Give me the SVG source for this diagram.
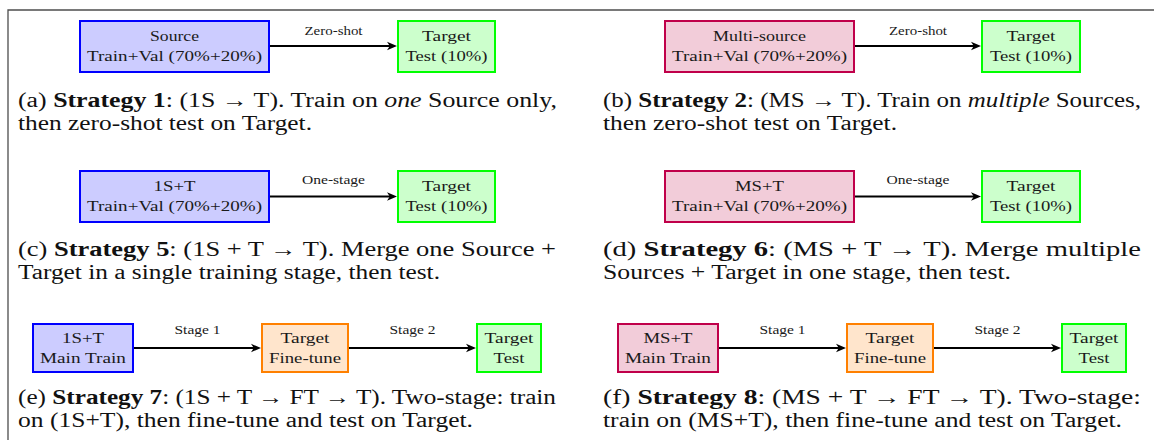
<svg xmlns="http://www.w3.org/2000/svg" width="1154" height="440" viewBox="0 0 1154 440">
<defs>
<marker id="ah" markerUnits="userSpaceOnUse" markerWidth="11" markerHeight="10" refX="5" refY="5" orient="auto">
<path d="M0,0.8 L10,5 L0,9.2 L2.8,5 Z" fill="#000"/>
</marker>
<style>
.bl{fill:#ccccff;stroke:#0000ff;stroke-width:2}
.gr{fill:#ccffcc;stroke:#00ff00;stroke-width:2}
.pu{fill:#f2ccd9;stroke:#c0004a;stroke-width:2}
.or{fill:#ffe5cc;stroke:#ff8000;stroke-width:2}
.bt{font-family:"Liberation Serif",serif;font-size:15px;fill:#1a1a1a}
.lb{font-family:"Liberation Serif",serif;font-size:12px;fill:#1a1a1a}
.cp{font-family:"Liberation Serif",serif;font-size:20px;fill:#111}
.b{font-weight:bold}
.i{font-style:italic}
.ar{stroke:#000;stroke-width:2;fill:none;marker-end:url(#ah)}
.fr{stroke:#4d4d4d;stroke-width:1.3;fill:none}
</style>
</defs>
<path class="fr" d="M8,440 V10 H1154"/>

<g id="a-source"><rect class="bl" x="80" y="21" width="189" height="51"/>
<text class="bt" x="150" y="41" textLength="49" lengthAdjust="spacingAndGlyphs">Source</text>
<text class="bt" x="87" y="60.5" textLength="175" lengthAdjust="spacingAndGlyphs">Train+Val (70%+20%)</text></g>
<g id="a-target"><rect class="gr" x="398" y="21" width="97" height="51"/>
<text class="bt" x="422" y="41" textLength="49" lengthAdjust="spacingAndGlyphs">Target</text>
<text class="bt" x="405.5" y="60.5" textLength="82" lengthAdjust="spacingAndGlyphs">Test (10%)</text></g>

<g id="b-source"><rect class="pu" x="665" y="21" width="189" height="51"/>
<text class="bt" x="713" y="41" textLength="93" lengthAdjust="spacingAndGlyphs">Multi-source</text>
<text class="bt" x="672" y="60.5" textLength="175" lengthAdjust="spacingAndGlyphs">Train+Val (70%+20%)</text></g>
<g id="b-target"><rect class="gr" x="982" y="21" width="98" height="51"/>
<text class="bt" x="1006.5" y="41" textLength="49" lengthAdjust="spacingAndGlyphs">Target</text>
<text class="bt" x="990" y="60.5" textLength="82" lengthAdjust="spacingAndGlyphs">Test (10%)</text></g>

<g id="c-source"><rect class="bl" x="80" y="171" width="189" height="51"/>
<text class="bt" x="153.5" y="191" textLength="42" lengthAdjust="spacingAndGlyphs">1S+T</text>
<text class="bt" x="87" y="210.5" textLength="175" lengthAdjust="spacingAndGlyphs">Train+Val (70%+20%)</text></g>
<g id="c-target"><rect class="gr" x="398" y="171" width="97" height="51"/>
<text class="bt" x="422" y="191" textLength="49" lengthAdjust="spacingAndGlyphs">Target</text>
<text class="bt" x="405.5" y="210.5" textLength="82" lengthAdjust="spacingAndGlyphs">Test (10%)</text></g>

<g id="d-source"><rect class="pu" x="665" y="171" width="189" height="51"/>
<text class="bt" x="735" y="191" textLength="49" lengthAdjust="spacingAndGlyphs">MS+T</text>
<text class="bt" x="672" y="210.5" textLength="175" lengthAdjust="spacingAndGlyphs">Train+Val (70%+20%)</text></g>
<g id="d-target"><rect class="gr" x="982" y="171" width="98" height="51"/>
<text class="bt" x="1006.5" y="191" textLength="49" lengthAdjust="spacingAndGlyphs">Target</text>
<text class="bt" x="990" y="210.5" textLength="82" lengthAdjust="spacingAndGlyphs">Test (10%)</text></g>

<g id="e-main"><rect class="bl" x="33" y="324" width="100" height="48"/>
<text class="bt" x="62" y="343" textLength="42" lengthAdjust="spacingAndGlyphs">1S+T</text>
<text class="bt" x="40" y="362.5" textLength="86" lengthAdjust="spacingAndGlyphs">Main Train</text></g>
<g id="e-finetune"><rect class="or" x="262" y="324" width="86" height="48"/>
<text class="bt" x="280.5" y="343" textLength="49" lengthAdjust="spacingAndGlyphs">Target</text>
<text class="bt" x="269" y="362.5" textLength="72" lengthAdjust="spacingAndGlyphs">Fine-tune</text></g>
<g id="e-test"><rect class="gr" x="477" y="324" width="64" height="48"/>
<text class="bt" x="484.5" y="343" textLength="49" lengthAdjust="spacingAndGlyphs">Target</text>
<text class="bt" x="493.5" y="362.5" textLength="31" lengthAdjust="spacingAndGlyphs">Test</text></g>

<g id="f-main"><rect class="pu" x="618" y="324" width="100" height="48"/>
<text class="bt" x="643.5" y="343" textLength="49" lengthAdjust="spacingAndGlyphs">MS+T</text>
<text class="bt" x="625" y="362.5" textLength="86" lengthAdjust="spacingAndGlyphs">Main Train</text></g>
<g id="f-finetune"><rect class="or" x="847" y="324" width="86" height="48"/>
<text class="bt" x="865.5" y="343" textLength="49" lengthAdjust="spacingAndGlyphs">Target</text>
<text class="bt" x="854" y="362.5" textLength="72" lengthAdjust="spacingAndGlyphs">Fine-tune</text></g>
<g id="f-test"><rect class="gr" x="1062" y="324" width="64" height="48"/>
<text class="bt" x="1069.5" y="343" textLength="49" lengthAdjust="spacingAndGlyphs">Target</text>
<text class="bt" x="1078.5" y="362.5" textLength="31" lengthAdjust="spacingAndGlyphs">Test</text></g>

<g id="connectors">
<line class="ar" x1="270" y1="46" x2="392" y2="46"/>
<text class="lb" x="304.5" y="35" textLength="58" lengthAdjust="spacingAndGlyphs">Zero-shot</text>
<line class="ar" x1="855" y1="46" x2="976" y2="46"/>
<text class="lb" x="889" y="35" textLength="58" lengthAdjust="spacingAndGlyphs">Zero-shot</text>
<line class="ar" x1="270" y1="196.5" x2="392" y2="196.5"/>
<text class="lb" x="302" y="184" textLength="63" lengthAdjust="spacingAndGlyphs">One-stage</text>
<line class="ar" x1="855" y1="196.5" x2="976" y2="196.5"/>
<text class="lb" x="886.5" y="184" textLength="63" lengthAdjust="spacingAndGlyphs">One-stage</text>
<line class="ar" x1="134" y1="348" x2="256" y2="348"/>
<text class="lb" x="174.5" y="334" textLength="46" lengthAdjust="spacingAndGlyphs">Stage 1</text>
<line class="ar" x1="349" y1="348" x2="471" y2="348"/>
<text class="lb" x="389.5" y="334" textLength="46" lengthAdjust="spacingAndGlyphs">Stage 2</text>
<line class="ar" x1="719" y1="348" x2="841" y2="348"/>
<text class="lb" x="759.5" y="334" textLength="46" lengthAdjust="spacingAndGlyphs">Stage 1</text>
<line class="ar" x1="934" y1="348" x2="1056" y2="348"/>
<text class="lb" x="974.5" y="334" textLength="46" lengthAdjust="spacingAndGlyphs">Stage 2</text>
</g>

<g id="captions">
<text class="cp" x="18" y="107" textLength="539" lengthAdjust="spacingAndGlyphs">(a) <tspan class="b">Strategy 1</tspan>: (1S → T). Train on <tspan class="i">one</tspan> Source only,</text>
<text class="cp" x="18" y="129.5" textLength="294" lengthAdjust="spacingAndGlyphs">then zero-shot test on Target.</text>
<text class="cp" x="603" y="107" textLength="538" lengthAdjust="spacingAndGlyphs">(b) <tspan class="b">Strategy 2</tspan>: (MS → T). Train on <tspan class="i">multiple</tspan> Sources,</text>
<text class="cp" x="603" y="129.5" textLength="294" lengthAdjust="spacingAndGlyphs">then zero-shot test on Target.</text>
<text class="cp" x="18" y="256" textLength="538" lengthAdjust="spacingAndGlyphs">(c) <tspan class="b">Strategy 5</tspan>: (1S + T → T). Merge one Source +</text>
<text class="cp" x="18" y="278.5" textLength="422" lengthAdjust="spacingAndGlyphs">Target in a single training stage, then test.</text>
<text class="cp" x="603" y="256" textLength="538" lengthAdjust="spacingAndGlyphs">(d) <tspan class="b">Strategy 6</tspan>:  (MS + T → T).  Merge multiple</text>
<text class="cp" x="603" y="278.5" textLength="408" lengthAdjust="spacingAndGlyphs">Sources + Target in one stage, then test.</text>
<text class="cp" x="18" y="404" textLength="538" lengthAdjust="spacingAndGlyphs">(e) <tspan class="b">Strategy 7</tspan>: (1S + T → FT → T). Two-stage: train</text>
<text class="cp" x="18" y="426.5" textLength="455" lengthAdjust="spacingAndGlyphs">on (1S+T), then fine-tune and test on Target.</text>
<text class="cp" x="603" y="404" textLength="538" lengthAdjust="spacingAndGlyphs">(f) <tspan class="b">Strategy 8</tspan>:  (MS + T → FT → T).  Two-stage:</text>
<text class="cp" x="603" y="426.5" textLength="519" lengthAdjust="spacingAndGlyphs">train on (MS+T), then fine-tune and test on Target.</text>
</g>
</svg>
